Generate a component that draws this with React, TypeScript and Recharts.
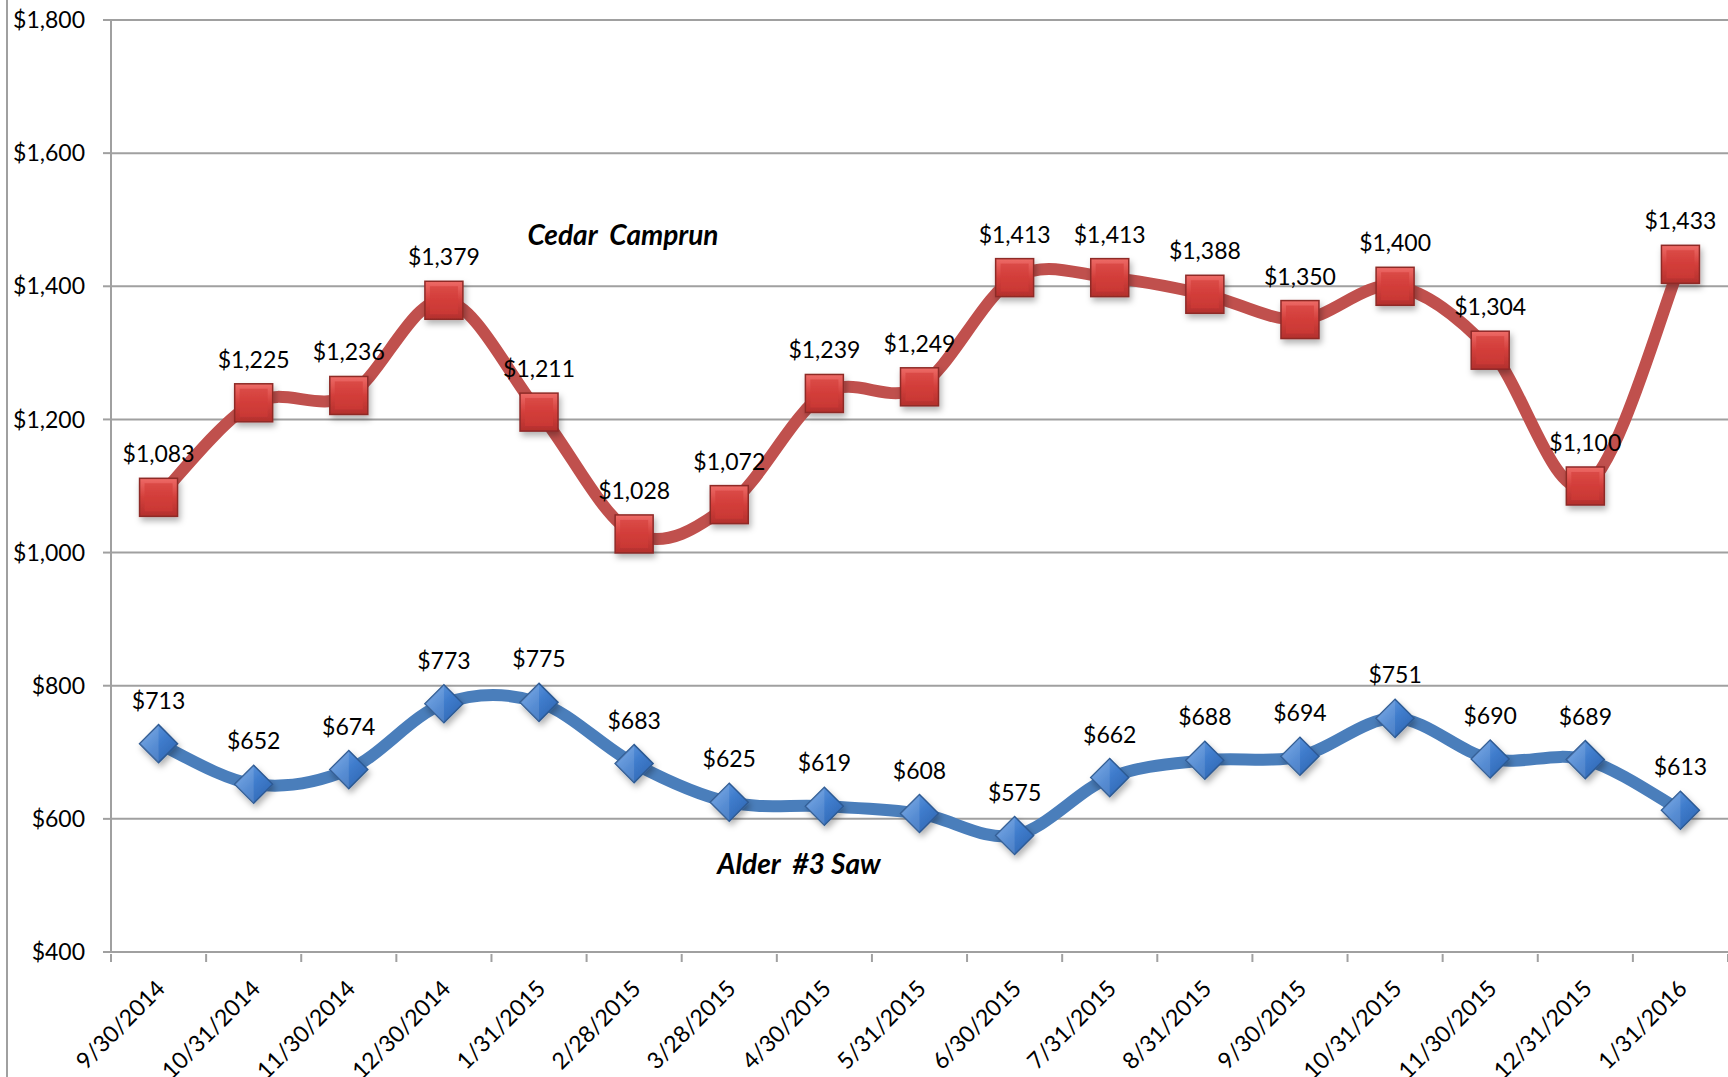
import React from 'react';
import {
  LineChart,
  Line,
  XAxis,
  YAxis,
  CartesianGrid,
  LabelList,
} from 'recharts';

const DATES = [
  '9/30/2014', '10/31/2014', '11/30/2014', '12/30/2014', '1/31/2015',
  '2/28/2015', '3/28/2015', '4/30/2015', '5/31/2015', '6/30/2015',
  '7/31/2015', '8/31/2015', '9/30/2015', '10/31/2015', '11/30/2015',
  '12/31/2015', '1/31/2016',
];
const CEDAR_CAMPRUN = [
  1083, 1225, 1236, 1379, 1211, 1028, 1072, 1239, 1249, 1413, 1413, 1388,
  1350, 1400, 1304, 1100, 1433,
];
const ALDER_SAW = [
  713, 652, 674, 773, 775, 683, 625, 619, 608, 575, 662, 688, 694, 751, 690,
  689, 613,
];
const Y_TICKS = [400, 600, 800, 1000, 1200, 1400, 1600, 1800];

const W = 1728;
const H = 1077;
const AXIS_W = 111;
const TOP = 20;
const X_AXIS_H = 125;
const BAND = (W - AXIS_W) / DATES.length;
const GRID = '#a0a0a0';
const FONT = 'Lato, "Open Sans", sans-serif';

const data = DATES.map((date, i) => ({
  date,
  cedar: CEDAR_CAMPRUN[i],
  alder: ALDER_SAW[i],
}));

const money = (v: number) => `$${Number(v).toLocaleString('en-US')}`;

// Excel-style smoothed line (bezier with 1/6 neighbour tangents)
function excelSmooth(context: any) {
  let pts: number[][] = [];
  return {
    areaStart() {},
    areaEnd() {},
    lineStart() {
      pts = [];
    },
    point(x: number, y: number) {
      pts.push([+x, +y]);
    },
    lineEnd() {
      if (!pts.length) return;
      context.moveTo(pts[0][0], pts[0][1]);
      for (let i = 0; i < pts.length - 1; i++) {
        const p0 = pts[i - 1] || pts[i];
        const p1 = pts[i];
        const p2 = pts[i + 1];
        const p3 = pts[i + 2] || p2;
        context.bezierCurveTo(
          p1[0] + (p2[0] - p0[0]) / 6,
          p1[1] + (p2[1] - p0[1]) / 6,
          p2[0] - (p3[0] - p1[0]) / 6,
          p2[1] - (p3[1] - p1[1]) / 6,
          p2[0],
          p2[1],
        );
      }
    },
  };
}

const SquareDot = (props: any) => {
  const { cx, cy } = props;
  if (cx == null || cy == null) return null;
  const s = 38;
  return (
    <g filter="url(#shadow)">
      <rect x={cx - s / 2} y={cy - s / 2} width={s} height={s} fill="url(#redFill)" stroke="#8e2a28" strokeWidth={1.5} />
      <rect x={cx - s / 2 + 5} y={cy - s / 2 + 5} width={s - 10} height={s - 10} fill="#d23c39" opacity={0.6} />
    </g>
  );
};

const DiamondDot = (props: any) => {
  const { cx, cy } = props;
  if (cx == null || cy == null) return null;
  const r = 19;
  return (
    <g filter="url(#shadow)">
      <path d={`M${cx},${cy - r} L${cx + r},${cy} L${cx},${cy + r} L${cx - r},${cy} Z`} fill="url(#blueFill)" stroke="#2d5a94" strokeWidth={1.5} />
      <path d={`M${cx},${cy - r} L${cx},${cy + r} L${cx - r},${cy} Z`} fill="#ffffff" opacity={0.12} />
    </g>
  );
};

const DateTick = (props: any) => {
  const { x, y, payload, index } = props;
  const half = BAND / 2;
  const tx = x + 8;
  const ty = y + 36;
  return (
    <g>
      <line x1={x - half} x2={x - half} y1={y} y2={y + 8} stroke={GRID} strokeWidth={2} />
      {index === DATES.length - 1 && (
        <line x1={x + half} x2={x + half} y1={y} y2={y + 8} stroke={GRID} strokeWidth={2} />
      )}
      <text
        x={tx}
        y={ty}
        textAnchor="end"
        fontSize={23}
        fontFamily={FONT}
        fill="#000"
        transform={`rotate(-45, ${tx}, ${ty})`}
      >
        {payload.value}
      </text>
    </g>
  );
};

const seriesLabel: React.CSSProperties = {
  position: 'absolute',
  fontFamily: FONT,
  fontSize: 28,
  fontWeight: 700,
  fontStyle: 'italic',
  whiteSpace: 'pre',
  transform: 'translate(-50%, -50%)',
  color: '#000',
};

export default function App() {
  return (
    <div
      style={{
        position: 'absolute',
        left: 0,
        top: 0,
        width: W,
        height: H,
        background: '#fff',
        overflow: 'hidden',
      }}
    >
      <div style={{ position: 'absolute', left: 6, top: 0, width: 2, height: H, background: GRID }} />
      <LineChart width={W} height={H} data={data} margin={{ top: TOP, right: 0, bottom: 0, left: 0 }}>
        <defs>
          <linearGradient id="redFill" x1="0" y1="0" x2="0" y2="1">
            <stop offset="0%" stopColor="#ee6b67" />
            <stop offset="50%" stopColor="#d33f3b" />
            <stop offset="100%" stopColor="#b3302d" />
          </linearGradient>
          <linearGradient id="blueFill" x1="0" y1="0" x2="1" y2="1">
            <stop offset="0%" stopColor="#6fa4e6" />
            <stop offset="50%" stopColor="#3f7ccc" />
            <stop offset="100%" stopColor="#2c62ad" />
          </linearGradient>
          <filter id="shadow" x="-50%" y="-50%" width="200%" height="200%">
            <feDropShadow dx="2" dy="4" stdDeviation="3" floodColor="#000" floodOpacity="0.3" />
          </filter>
        </defs>
        <CartesianGrid vertical={false} stroke={GRID} strokeWidth={2} />
        <XAxis
          dataKey="date"
          height={X_AXIS_H}
          padding={{ left: BAND / 2, right: BAND / 2 }}
          tickSize={0}
          tickLine={false}
          axisLine={{ stroke: GRID, strokeWidth: 2 }}
          interval={0}
          tick={<DateTick />}
        />
        <YAxis
          width={AXIS_W}
          domain={[400, 1800]}
          ticks={Y_TICKS}
          tickFormatter={money}
          tickSize={8}
          tickMargin={18}
          tickLine={{ stroke: GRID, strokeWidth: 2 }}
          axisLine={{ stroke: GRID, strokeWidth: 2 }}
          tick={{ fill: '#000', fontSize: 23, fontFamily: FONT }}
        />
        <Line
          dataKey="cedar"
          type={excelSmooth as any}
          stroke="#c0504d"
          strokeWidth={12}
          dot={<SquareDot />}
          activeDot={false}
          isAnimationActive={false}
        >
          <LabelList dataKey="cedar" position="top" offset={35} formatter={money as any} fill="#000" fontSize={23} fontFamily={FONT} />
        </Line>
        <Line
          dataKey="alder"
          type={excelSmooth as any}
          stroke="#4a7ebb"
          strokeWidth={12}
          dot={<DiamondDot />}
          activeDot={false}
          isAnimationActive={false}
        >
          <LabelList dataKey="alder" position="top" offset={35} formatter={money as any} fill="#000" fontSize={23} fontFamily={FONT} />
        </Line>
      </LineChart>
      <div style={{ ...seriesLabel, left: 623, top: 234 }}>{'Cedar  Camprun'}</div>
      <div style={{ ...seriesLabel, left: 799, top: 863 }}>{'Alder  #3 Saw'}</div>
    </div>
  );
}
